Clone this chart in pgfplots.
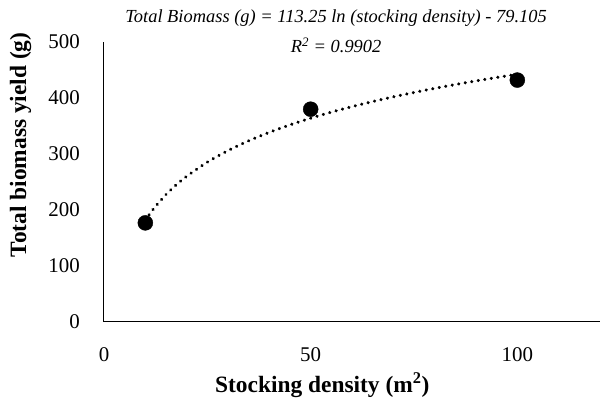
\documentclass[border=0pt]{standalone}
\usepackage{fontspec}
\setmainfont{Liberation Serif}
\usepackage{pgfplots}
\pgfplotsset{compat=1.18}
\begin{document}
\begin{tikzpicture}[x=1bp,y=1bp]
\begin{axis}[
  scale only axis,
  width=496bp, height=280bp,
  xmin=0, xmax=120, ymin=0, ymax=500,
  axis lines=left,
  axis line style={-, line width=1bp, black},
  xtick={0,50,100}, ytick={0,100,200,300,400,500},
  major tick length=0pt,
  /pgf/number format/assume math mode=true,
  ticklabel style={font=\fontsize{21}{24}\selectfont, inner sep=0pt},
  xticklabel style={anchor=north, yshift=-25bp},
  yticklabel style={anchor=east, xshift=-24bp},
  xlabel={\textbf{Stocking density (m\textsuperscript{2})}},
  ylabel={\textbf{Total biomass yield (g)}},
  label style={font=\fontsize{23.5}{26}\selectfont},
  xlabel style={at={(axis description cs:0.44,-0.225)}, anchor=center},
  ylabel style={at={(axis description cs:-0.168,0.632)}, anchor=center, rotate=0},
  clip=false,
]
\addplot[black, line width=3.4bp, line cap=round, dash pattern=on 0.01bp off 6.6bp, smooth]
coordinates {
(10,181.66) (12,202.31) (15,227.58) (17.5,245.04) (20,260.16) (25,285.43) (30,306.08)
(35,323.54) (40,338.66) (45,352.00) (50,363.93) (55,374.72) (60,384.58)
(65,393.64) (70,402.04) (75,409.85) (80,417.16) (85,424.03) (90,430.50)
(95,436.62) (100,442.43)};
\addplot[only marks, mark=*, mark size=7.5bp, black] coordinates {
(10,177) (50,380) (100,432)};
\node[font=\fontsize{18.5}{20}\selectfont\itshape, anchor=center] at (axis description cs:0.468,1) [yshift=24bp]
  {Total Biomass (g) = 113.25 ln (stocking density) - 79.105};
\node[font=\fontsize{18.5}{20}\selectfont\itshape, anchor=center] at (axis description cs:0.468,1) [yshift=-3bp]
  {R\textsuperscript{2} = 0.9902};
\end{axis}
\pgfresetboundingbox
\path ([shift={(-104bp,-81bp)}]current axis.south west) rectangle ([shift={(1bp,42bp)}]current axis.north east);
\end{tikzpicture}
\end{document}
